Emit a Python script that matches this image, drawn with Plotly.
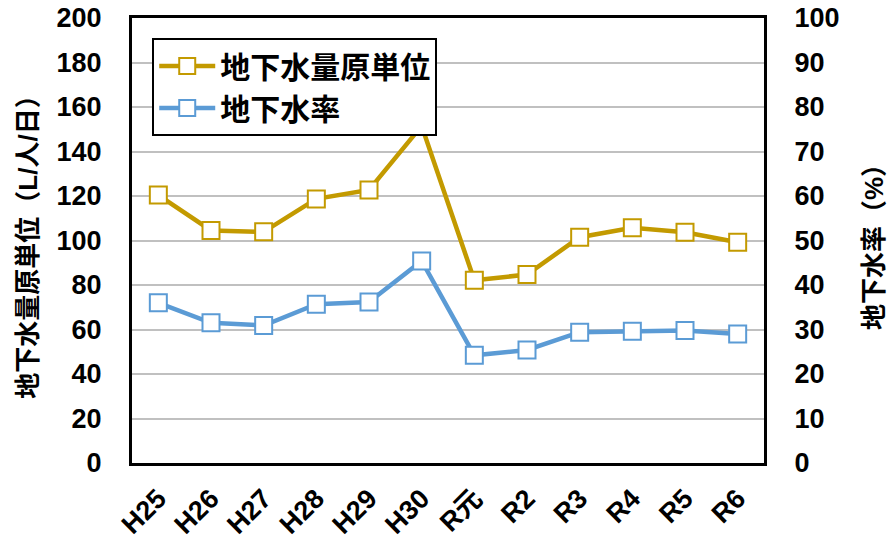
import plotly.graph_objects as go

categories = ["H25", "H26", "H27", "H28", "H29", "H30", "R元", "R2", "R3", "R4", "R5", "R6"]
unit_volume = [120.4, 104.5, 103.9, 118.7, 122.7, 151.5, 82.1, 84.7, 101.5, 105.7, 103.7, 99.2]
groundwater_rate = [36.0, 31.5, 30.9, 35.7, 36.2, 45.4, 24.2, 25.4, 29.4, 29.6, 29.8, 29.0]

left_ticks = list(range(0, 201, 20))
right_ticks = list(range(0, 101, 10))

GOLD = "#C39A00"
BLUE = "#5B9BD5"
FONT = "Liberation Sans, Arial, Noto Sans CJK JP"

fig = go.Figure()
fig.add_trace(go.Scatter(
    x=categories, y=unit_volume, name="地下水量原単位", yaxis="y", legendgroup="a",
    mode="lines+markers",
    line=dict(color=GOLD, width=4.5),
    marker=dict(symbol="square", size=17, color="white", line=dict(color=GOLD, width=2)),
))
fig.add_trace(go.Scatter(
    x=categories, y=groundwater_rate, name="地下水率", yaxis="y2", legendgroup="b",
    mode="lines+markers",
    line=dict(color=BLUE, width=4.5),
    marker=dict(symbol="square", size=17, color="white", line=dict(color=BLUE, width=2)),
))

fig.update_layout(
    width=889, height=539,
    margin=dict(l=132, r=125, t=18, b=76, autoexpand=False),
    paper_bgcolor="white", plot_bgcolor="white",
    font=dict(family=FONT, size=24, color="black", weight="bold"),
    showlegend=True,
    legend=dict(
        x=0.032, y=0.955, xanchor="left", yanchor="top",
        bgcolor="white", bordercolor="black", borderwidth=2,
        font=dict(family=FONT, size=30, color="black", weight="bold"),
        tracegroupgap=0, itemwidth=56,
    ),
    yaxis=dict(
        range=[0, 200], tickvals=left_ticks, automargin=False,
        ticks="outside", ticklen=22, tickcolor="rgba(0,0,0,0)",
        showline=True, linecolor="black", linewidth=3, mirror=True,
        showgrid=True, gridcolor="#C0C0C0", gridwidth=2, zeroline=False,
        tickfont=dict(size=27, weight="bold"),
        title=dict(text="地下水量原単位（L/人/日）", font=dict(size=26, weight="bold"), standoff=12),
    ),
    yaxis2=dict(
        range=[0, 100], tickvals=right_ticks, automargin=False,
        ticks="outside", ticklen=24, tickcolor="rgba(0,0,0,0)",
        overlaying="y", side="right",
        showline=False, showgrid=False, zeroline=False,
        tickfont=dict(size=27, weight="bold"),
        title=dict(text="地下水率（%）", font=dict(size=26, weight="bold"), standoff=30),
    ),
)
fig.update_xaxes(
    type="category", range=[-0.5, 11.5], automargin=False,
    tickangle=-45, ticks="outside", ticklen=6, tickcolor="rgba(0,0,0,0)",
    showline=True, linecolor="black", linewidth=3, mirror=True,
    showgrid=False, zeroline=False,
    tickfont=dict(size=27, weight="bold"),
)

fig.write_html("out.html", config={"displayModeBar": False},
               post_script="document.body.style.margin='0';")
